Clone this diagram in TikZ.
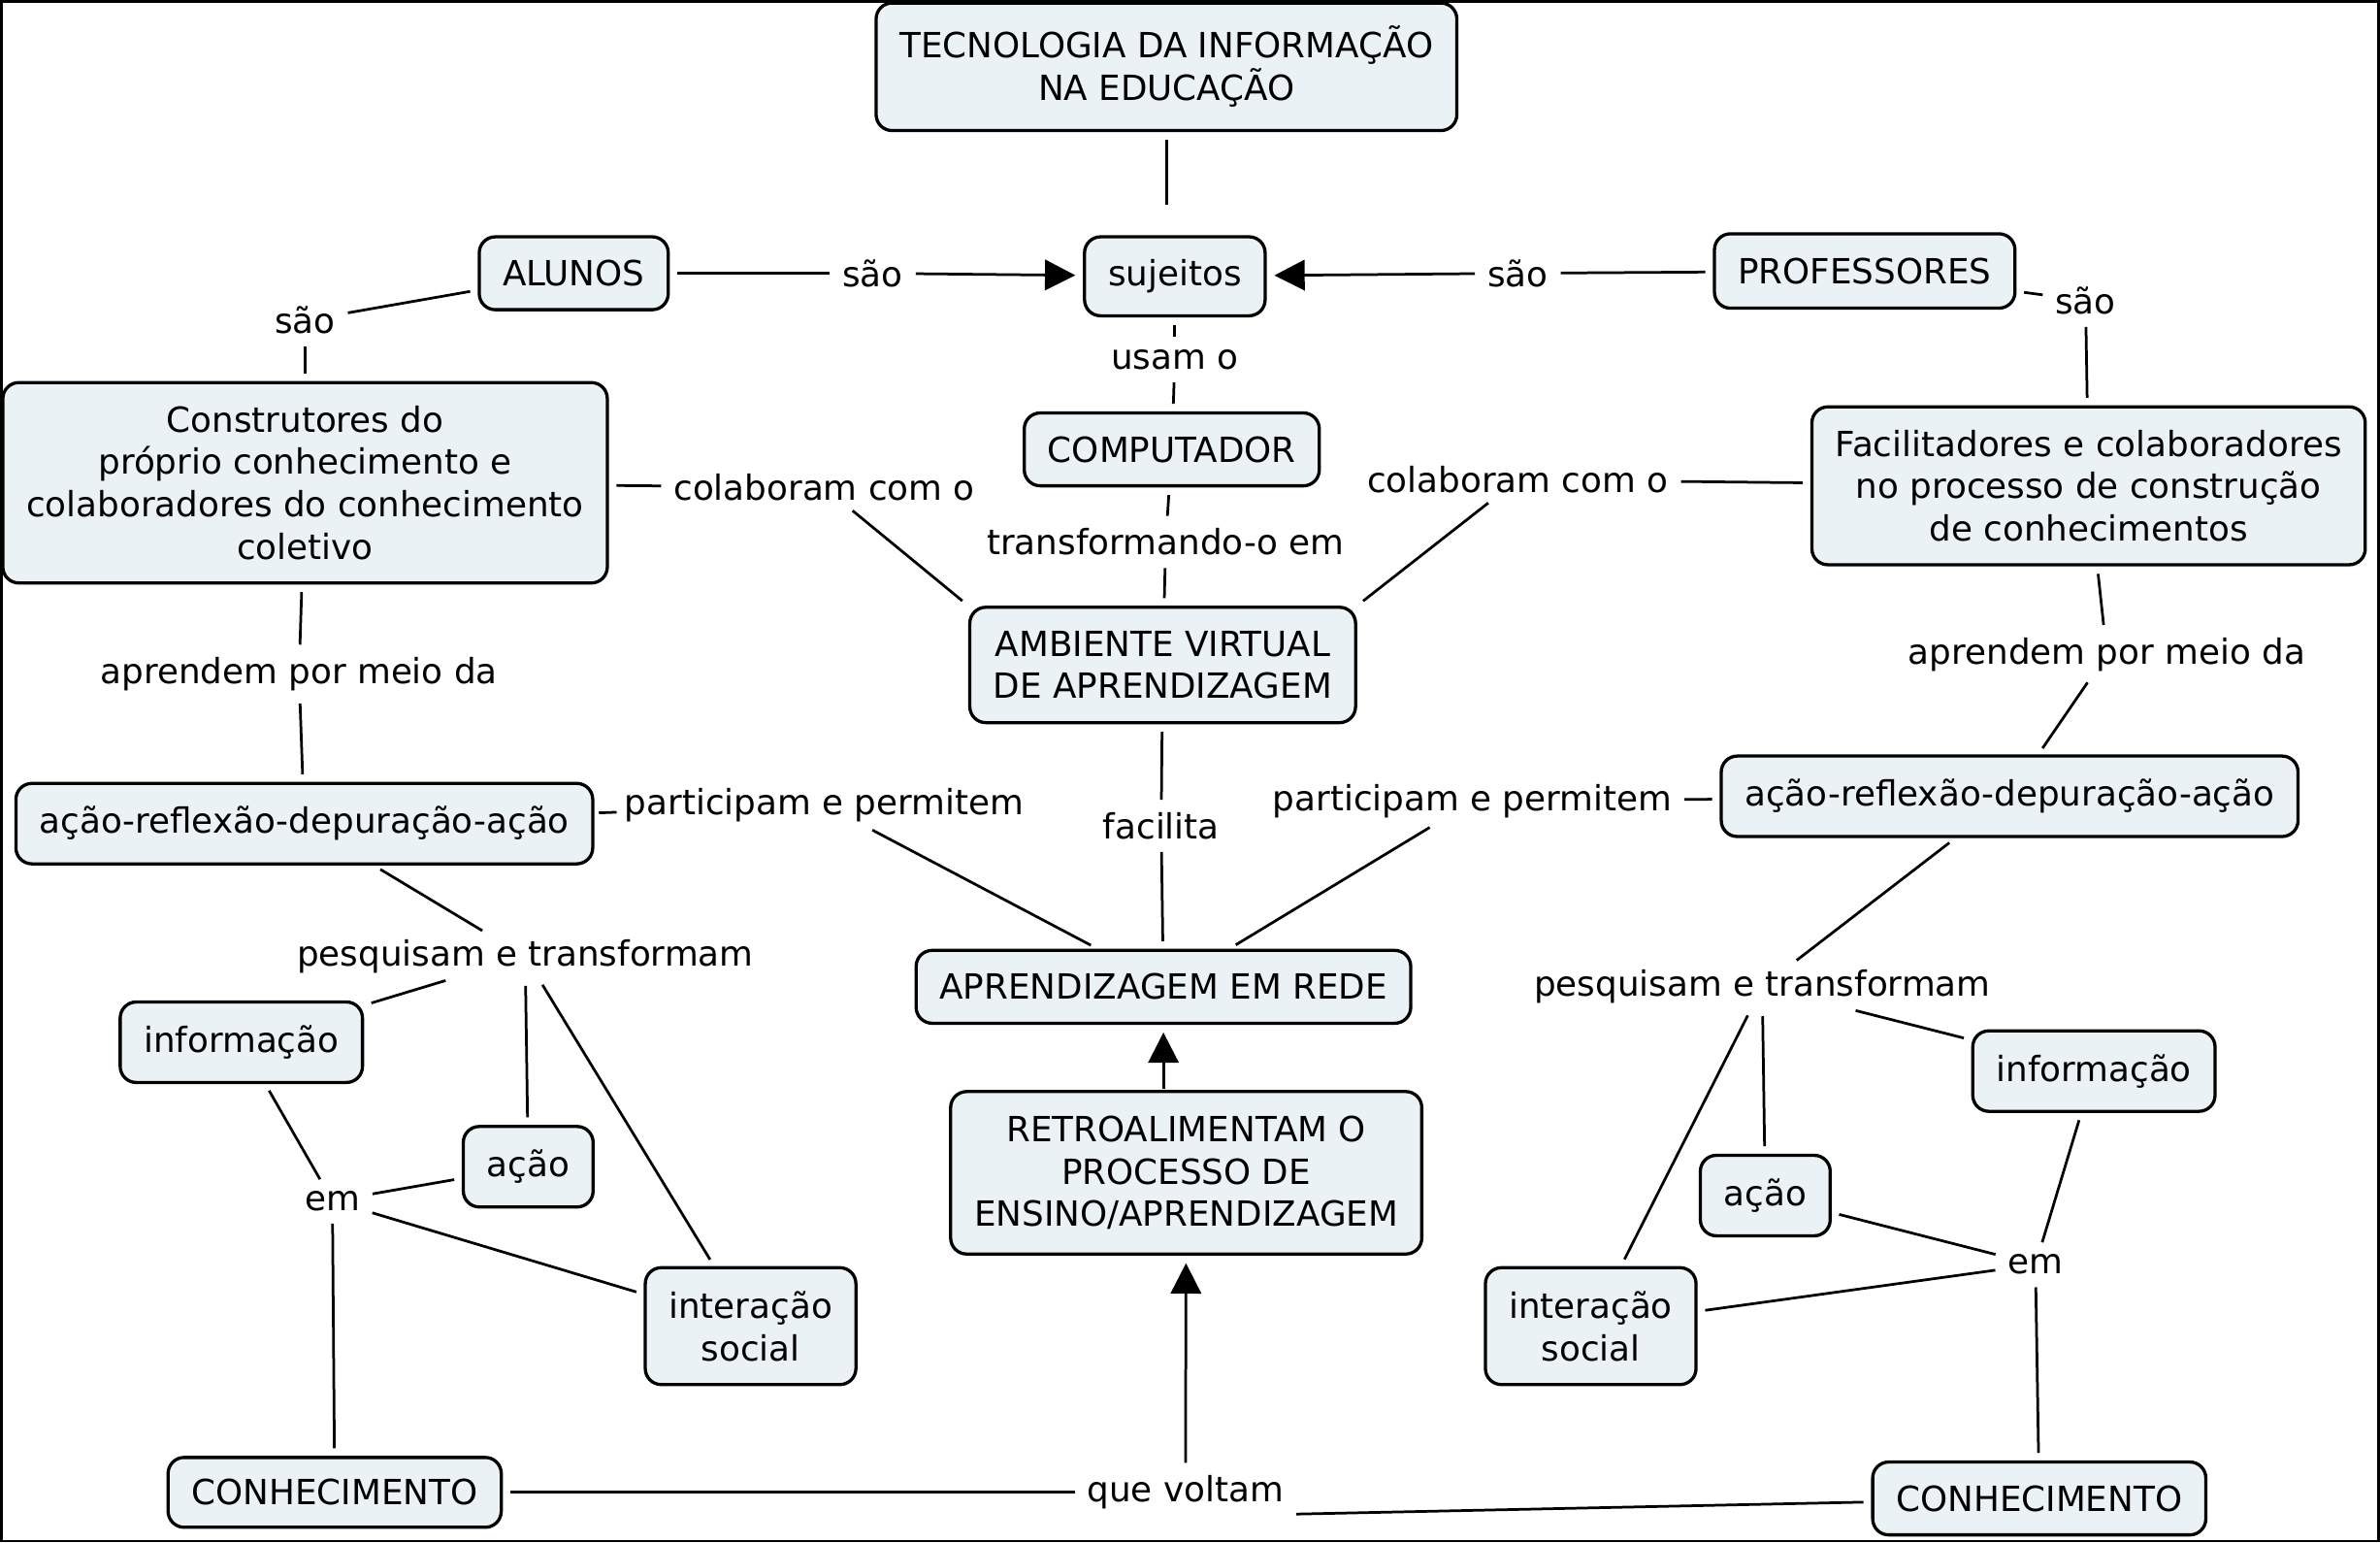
\documentclass[tikz,border=0pt]{standalone}
\usepackage{fontspec}
\setmainfont{DejaVu Sans}
\usetikzlibrary{arrows.meta,positioning,calc}

\definecolor{conceptfill}{RGB}{235,242,245}
\tikzset{
  concept/.style={draw, line width=1.2pt, rounded corners=6pt, fill=conceptfill,
    align=center, inner xsep=3.1mm, inner ysep=1mm, minimum height=9.6mm},
  phrase/.style={inner sep=0.6mm, align=center},
  link/.style={line width=1pt, shorten <=1mm, shorten >=1mm},
  arrowlink/.style={link, -{Triangle[length=4mm,width=4mm]}}
}

\begin{document}
\begin{tikzpicture}[x=0.2mm, y=-0.2mm, font=\fontsize{13}{15.9}\selectfont]
\useasboundingbox (0,0) rectangle (1568,1016);
\draw[line width=0.8pt] (1,1) rectangle (1567,1015);

% conceito principal
\node[concept, minimum height=16.8mm] (title) at (768.5,44) {TECNOLOGIA DA INFORMAÇÃO\\NA EDUCAÇÃO};
\node[concept, minimum height=10.4mm] (sujeitos) at (774,182) {sujeitos};

% alunos e professores
\node[concept] (alunos) at (378,180) {ALUNOS};
\node[concept, minimum height=9.8mm] (profs) at (1228.5,178.5) {PROFESSORES};
\node[concept, minimum height=26.4mm] (constr) at (201,318) {Construtores do\\próprio conhecimento e\\colaboradores do conhecimento\\coletivo};
\node[concept, minimum height=20.8mm] (facil) at (1376,320) {Facilitadores e colaboradores\\no processo de construção\\de conhecimentos};

% computador e ambiente
\node[concept] (comput) at (772,296) {COMPUTADOR};
\node[concept, minimum height=15.2mm] (ambiente) at (766,438) {AMBIENTE VIRTUAL\\DE APRENDIZAGEM};
\node[concept] (aprend) at (766.5,650) {APRENDIZAGEM EM REDE};
\node[concept, minimum height=21.4mm] (retro) at (781.5,772.5) {RETROALIMENTAM O\\PROCESSO DE\\ENSINO/APRENDIZAGEM};

% lado dos alunos
\node[concept, minimum height=10.6mm] (acaoL) at (200.5,542.5) {ação-reflexão-depuração-ação};
\node[concept, minimum height=10.6mm] (infoL) at (159,686.5) {informação};
\node[concept, minimum height=10.6mm] (acL) at (348,768.5) {ação};
\node[concept, minimum height=15.4mm] (interL) at (494.5,873.5) {interação\\social};
\node[concept, minimum height=9.2mm] (conhL) at (220.5,983) {CONHECIMENTO};

% lado dos professores
\node[concept, minimum height=10.6mm] (acaoR) at (1324,524.5) {ação-reflexão-depuração-ação};
\node[concept, minimum height=10.6mm] (infoR) at (1379.5,705.5) {informação};
\node[concept, minimum height=10.6mm] (acR) at (1163,787.5) {ação};
\node[concept, minimum height=15.4mm] (interR) at (1048,873.5) {interação\\social};
\node[concept] (conhR) at (1343.5,987) {CONHECIMENTO};

% frases de ligação
\node[phrase] (lsaoA) at (575,180) {são};
\node[phrase] (lsaoB) at (1000,180) {são};
\node[phrase] (lsaoC) at (201,211) {são};
\node[phrase] (lsaoD) at (1374,198) {são};
\node[phrase] (lusam) at (774,237) {usam o};
\node[phrase] (ltransf) at (768,357) {transformando-o em};
\node[phrase] (lcolA) at (543,321) {colaboram com o};
\node[phrase] (lcolB) at (1000,316) {colaboram com o};
\node[phrase] (laprA) at (197,444) {aprendem por meio da};
\node[phrase] (laprB) at (1388,431) {aprendem por meio da};
\node[phrase] (lpartA) at (543,530) {participam e permitem};
\node[phrase] (lpartB) at (970,528) {participam e permitem};
\node[phrase] (lfacil) at (765,544) {facilita};
\node[phrase] (lpesqA) at (346,630) {pesquisam e transformam};
\node[phrase] (lpesqB) at (1161,650) {pesquisam e transformam};
\node[phrase] (lemA) at (219,791) {em};
\node[phrase] (lemB) at (1341,833) {em};
\node[phrase] (lvolta) at (781,983) {que voltam};

% ligações do topo
\draw[link, shorten >=4mm] (title) -- (title |- sujeitos.north);
\draw[link] (alunos) -- (lsaoA);
\draw[arrowlink] (lsaoA) -- (sujeitos);
\draw[link] (profs) -- (lsaoB);
\draw[arrowlink] (lsaoB) -- (sujeitos);
\draw[link] (alunos) -- (lsaoC);
\draw[link] (lsaoC) -- (constr);
\draw[link] (profs) -- (lsaoD);
\draw[link] (lsaoD) -- (facil);
\draw[link] (sujeitos) -- (lusam);
\draw[link] (lusam) -- (comput);
\draw[link] (comput) -- (ltransf);
\draw[link] (ltransf) -- (ambiente);

% ligações do meio
\draw[link] (constr) -- (lcolA);
\draw[link] (lcolA) -- (ambiente.north west);
\draw[link] (facil) -- (lcolB);
\draw[link] (lcolB) -- (ambiente.north east);
\draw[link] (constr) -- (laprA);
\draw[link] (laprA) -- (acaoL);
\draw[link] (facil) -- (laprB);
\draw[link] (laprB) -- (acaoR);
\draw[link, shorten <=0.6mm, shorten >=0.4mm] (acaoL) -- (lpartA);
\draw[link] (lpartA) -- (aprend.150);
\draw[link] (acaoR) -- (lpartB);
\draw[link] (lpartB) -- (aprend.30);
\draw[link] (ambiente) -- (lfacil);
\draw[link] (lfacil) -- (aprend);

% ramo esquerdo
\draw[link] (acaoL) -- (lpesqA);
\draw[link] (lpesqA) -- (infoL);
\draw[link] (lpesqA) -- (acL);
\draw[link] (lpesqA) -- (interL);
\draw[link] (infoL) -- (lemA);
\draw[link] (acL) -- (lemA);
\draw[link] (interL) -- (lemA);
\draw[link] (lemA) -- (conhL);

% ramo direito
\draw[link] (acaoR) -- (lpesqB);
\draw[link] (lpesqB) -- (infoR);
\draw[link] (lpesqB) -- (acR);
\draw[link] (lpesqB) -- (interR);
\draw[link] (infoR) -- (lemB);
\draw[link] (acR) -- (lemB);
\draw[link] (interR) -- (lemB);
\draw[link] (lemB) -- (conhR);

% retorno
\draw[link] (conhL) -- (lvolta);
\draw[link] (conhR) -- (lvolta.south east);
\draw[arrowlink] (lvolta) -- (retro);
\draw[arrowlink, shorten <=0.2mm] (retro.north -| aprend) -- (aprend);
\end{tikzpicture}
\end{document}
